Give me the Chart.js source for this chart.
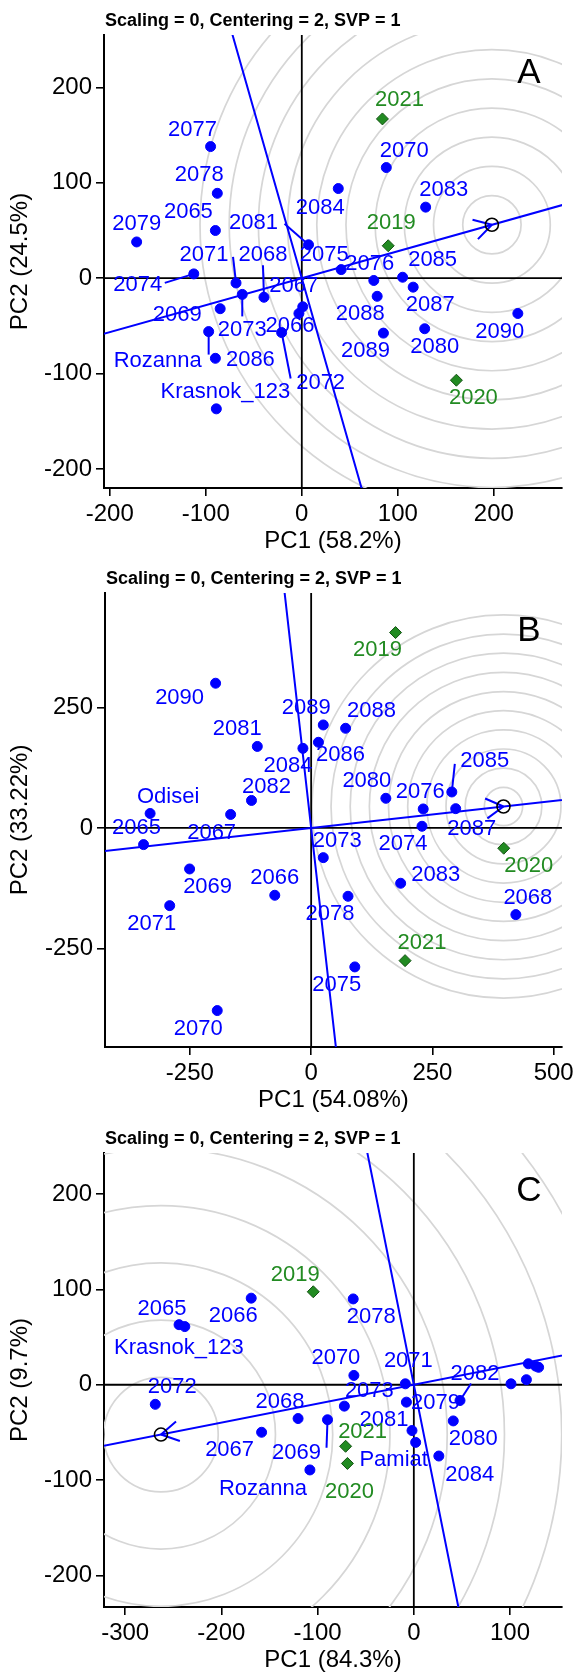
<!DOCTYPE html>
<html>
<head>
<meta charset="utf-8">
<script src="https://cdn.jsdelivr.net/npm/chart.js@4.4.1/dist/chart.umd.min.js"></script>
<style>
  html, body { margin: 0; padding: 0; background: #fff; }
  #wrap { position: relative; width: 578px; height: 1675px; }
  #wrap canvas { position: absolute; left: 0; }
</style>
</head>
<body>
<div id="wrap">
  <canvas id="chartA" width="578" height="555" style="top:0px"></canvas>
  <canvas id="chartB" width="578" height="560" style="top:555px"></canvas>
  <canvas id="chartC" width="578" height="560" style="top:1115px"></canvas>
</div>
<script>
// ---- panel A data ----
const genoNamesA = ['2077','2078','2065','2079','2081','2084','2070','2083','2075','2076','2085','2087','2074','2071','2068','2073','2069','Rozanna','2086','Krasnok_123','2072','2067','2066','2088','2089','2080','2090'];
const genoXA = [-95, -88, -90, -172, 7, 38, 88, 129, 41, 75, 105, 116, -112.5, -68.5, -39.4, -62, -85, -97, -90, -89, -21, 1, -3, 78.5, 85, 128, 225];
const genoYA = [138, 89, 50, 38, 35, 94, 116, 74.5, 9, -2.4, 1, -9.4, 4.5, -5, -20, -17, -32, -56, -84, -137, -57, -30, -37, -19, -57.6, -53, -37];
const envNamesA = ['2021', '2019', '2020'];
const envXA = [84, 90, 161];
const envYA = [167, 34, -107];
const idealA = [198, 56];
const ringStepA = 30.4, ringCountA = 10;
const ticksXA = [-200, -100, 0, 100, 200];
const ticksYA = [-200, -100, 0, 100, 200];

// ---- panel B data ----
const genoNamesB = ['2090','2089','2088','2086','2084','2081','2082','2080','2076','2085','2087','Odisei','2067','2065','2073','2074','2069','2066','2071','2078','2083','2068','2075','2070'];
const genoXB = [-197, 25, 71, 15, -17, -111, -123, 154, 231, 290, 298, -332, -166, -345.5, 25, 228.5, -250.6, -75, -291.6, 76, 184.5, 422, 90, -193.6];
const genoYB = [300, 213.5, 206.6, 177.6, 165, 169, 57, 61.5, 39.4, 74.6, 40, 30, 28, -34.5, -61.5, 3.5, -85, -139.5, -161, -141.6, -114.6, -179.6, -288, -378.5];
const envNamesB = ['2019', '2020', '2021'];
const envXB = [174, 397, 193.6];
const envYB = [405, -42, -275];
const idealB = [396.5, 44.5];
const ringStepB = 39.5, ringCountB = 10;
const ticksXB = [-250, 0, 250, 500];
const ticksYB = [-250, 0, 250];

// ---- panel C data ----
const genoNamesC = ['2065','Krasnok_123','2066','2078','2070','2071','2072','2068','2067','2069','2073','Rozanna','2079','2081','Pamiat','2084','2080','2082','','','','',''];
const genoXC = [-244, -238, -169, -63, -62.3, -8.8, -268.7, -120.3, -158.2, -89.7, -72.2, -108, -7.7, -1.9, 1.9, 26, 41, 48, 101, 117, 119, 126.7, 129.7];
const genoYC = [63, 61, 90.8, 90, 9.8, 1, -20.5, -35.4, -49.8, -36.7, -22.4, -89.3, -18.2, -48, -60.4, -74.7, -37.9, -16.5, 1, 5.3, 22, 19.5, 18.3];
const envNamesC = ['2019', '2021', '2020'];
const envXC = [-104.5, -70.9, -69];
const envYC = [97.5, -64.5, -82.5];
const idealC = [-262.8, -52.2];
const ringStepC = 59.5, ringCountC = 10;
const ticksXC = [-300, -200, -100, 0, 100];
const ticksYC = [-200, -100, 0, 100, 200];

// label placement (pixel offsets from the point) and leader lines
const labelPosA = {
  '2077': [-18, -17], '2078': [-18, -18], '2065': [-27, -19], '2079': [0, -18], '2081': [-55, -22],
  '2084': [-18, 19], '2070': [18, -17], '2083': [18, -17], '2075': [-17, -15], '2076': [-4, -17],
  '2085': [30, -17], '2087': [17, 18], '2074': [-56, 11], '2071': [-32, -28], '2068': [-1, -42],
  '2073': [0, 36], '2069': [-43, 6], 'Rozanna': [-51, 29], '2086': [35, 2], 'Krasnok_123': [9, -17],
  '2072': [39, 50], '2067': [-9, -21], '2066': [-9, 12], '2088': [-17, 18], '2089': [-18, 18],
  '2080': [10, 18], '2090': [-18, 18], '2021': [17, -19], '2019': [3, -23], '2020': [17, 18]
};
const leadersA = { '2081': [-24, -21], '2071': [-3, -26], '2068': [-1, -32], '2074': [-29, 9], '2073': [0, 22], 'Rozanna': [0, 23], '2072': [9, 46] };

const labelPosB = {
  '2090': [-36, 15], '2089': [-17, -17], '2088': [26, -17], '2086': [22, 13], '2084': [-15, 18],
  '2081': [-20, -17], '2082': [15, -14], '2080': [-19, -17], '2076': [-3, -17], '2085': [33, -31],
  '2087': [16, 20], 'Odisei': [18, -17], '2067': [-19, 18], '2065': [-7, -17], '2073': [14, -17],
  '2074': [-19, 18], '2069': [18, 18], '2066': [0, -17], '2071': [-18, 18], '2078': [-18, 18],
  '2083': [35, -8], '2068': [12, -17], '2075': [-18, 18], '2070': [-19, 18],
  '2019': [-18, 17], '2020': [25, 18], '2021': [17, -18]
};
const leadersB = { '2085': [3, -28] };

const labelPosC = {
  '2065': [-17, -16], 'Krasnok_123': [-6, 21], '2066': [-18, 18], '2078': [18, 18], '2070': [-18, -17],
  '2071': [3, -23], '2072': [17, -17], '2068': [-18, -17], '2067': [-32, 18], '2069': [-31, 33],
  '2073': [25, -15], 'Rozanna': [-47, 19], '2079': [29, 1], '2081': [-28, -11], 'Pamiat': [-22, 18],
  '2084': [31, 19], '2080': [20, 18], '2082': [15, -27],
  '2019': [-18, -17], '2021': [17, -14], '2020': [2, 28]
};
const leadersC = { '2069': [-1, 28], '2082': [11, -17] };

const FONT = '"Liberation Sans", Arial, sans-serif';
const BLUE = '#0000ff';
const GREEN = '#228b22';
const TITLE = 'Scaling = 0, Centering = 2, SVP = 1';

function makePanel(canvasId, p) {
  const pts = (xs, ys) => xs.map((v, i) => ({ x: v, y: ys[i] }));

  const biplot = {
    id: 'biplot',
    beforeDatasetsDraw(chart) {
      const { ctx, chartArea: a, scales: { x, y } } = chart;
      ctx.save();
      ctx.beginPath();
      ctx.rect(a.left, a.top, a.width, a.height);
      ctx.clip();

      // concentric circles round the ideal point
      const cx = x.getPixelForValue(p.ideal[0]), cy = y.getPixelForValue(p.ideal[1]);
      ctx.strokeStyle = '#d6d6d6';
      ctx.lineWidth = 1.7;
      for (let k = 1; k <= p.rings; k++) {
        const r = x.getPixelForValue(p.ideal[0] + k * p.ringStep) - cx;
        ctx.beginPath();
        ctx.arc(cx, cy, r, 0, Math.PI * 2);
        ctx.stroke();
      }

      // zero lines
      const ox = x.getPixelForValue(0), oy = y.getPixelForValue(0);
      ctx.strokeStyle = '#000';
      ctx.lineWidth = 1.8;
      ctx.beginPath();
      ctx.moveTo(a.left, oy); ctx.lineTo(a.right, oy);
      ctx.moveTo(ox, a.top); ctx.lineTo(ox, a.bottom);
      ctx.stroke();

      // axis through the ideal point and its perpendicular
      const ux = cx - ox, uy = cy - oy, ul = Math.hypot(ux, uy);
      const px = x.getPixelForValue(-p.ideal[1]) - ox, py = y.getPixelForValue(p.ideal[0]) - oy;
      const pl = Math.hypot(px, py);
      const L = 2000;
      ctx.strokeStyle = BLUE;
      ctx.lineWidth = 2;
      ctx.beginPath();
      ctx.moveTo(ox - ux / ul * L, oy - uy / ul * L); ctx.lineTo(ox + ux / ul * L, oy + uy / ul * L);
      ctx.moveTo(ox - px / pl * L, oy - py / pl * L); ctx.lineTo(ox + px / pl * L, oy + py / pl * L);
      ctx.stroke();

      // arrow head at the ideal point
      const bx = -ux / ul, by = -uy / ul, ang = Math.PI / 6, bl = 20;
      ctx.beginPath();
      [ang, -ang].forEach(t => {
        const rx = bx * Math.cos(t) - by * Math.sin(t), ry = bx * Math.sin(t) + by * Math.cos(t);
        ctx.moveTo(cx, cy); ctx.lineTo(cx + rx * bl, cy + ry * bl);
      });
      ctx.stroke();

      // open circle on the ideal point
      ctx.strokeStyle = '#000';
      ctx.lineWidth = 1.6;
      ctx.beginPath();
      ctx.arc(cx, cy, 6.5, 0, Math.PI * 2);
      ctx.stroke();
      ctx.restore();
    },
    afterDatasetsDraw(chart) {
      const { ctx, chartArea: a, scales: { x, y } } = chart;
      ctx.save();
      ctx.font = '22px ' + FONT;
      ctx.textAlign = 'center';
      ctx.textBaseline = 'middle';
      const drawLabels = (names, xs, ys, color) => {
        names.forEach((n, i) => {
          if (!n) return;
          const sx = x.getPixelForValue(xs[i]), sy = y.getPixelForValue(ys[i]);
          const ld = p.leaders[n];
          if (ld) {
            ctx.strokeStyle = color;
            ctx.lineWidth = 2;
            ctx.beginPath();
            ctx.moveTo(sx, sy); ctx.lineTo(sx + ld[0], sy + ld[1]);
            ctx.stroke();
          }
          const o = p.labels[n] || [15, -16];
          ctx.fillStyle = color;
          ctx.fillText(n, sx + o[0], sy + o[1]);
        });
      };
      drawLabels(p.gn, p.gx, p.gy, BLUE);
      drawLabels(p.en, p.ex, p.ey, GREEN);

      // titles
      ctx.fillStyle = '#000';
      ctx.font = 'bold 18px ' + FONT;
      ctx.textAlign = 'left';
      ctx.fillText(TITLE, a.left + 1, a.top - 14);
      ctx.font = '35px ' + FONT;
      ctx.textAlign = 'center';
      ctx.fillText(p.letter, 529, a.top + 38);
      ctx.font = '24px ' + FONT;
      ctx.fillText(p.xTitle, (a.left + a.right) / 2, a.bottom + 53);
      ctx.translate(20, (a.top + a.bottom) / 2);
      ctx.rotate(-Math.PI / 2);
      ctx.fillText(p.yTitle, 0, 0);
      ctx.restore();
    }
  };

  const axis = (min, max, ticks) => ({
    type: 'linear',
    min: min,
    max: max,
    afterBuildTicks: s => { s.ticks = ticks.map(v => ({ value: v })); },
    grid: { display: true, drawOnChartArea: false, drawTicks: true, tickLength: 8, color: '#000', lineWidth: 1.6 },
    border: { display: true, color: '#000', width: 2 },
    ticks: { color: '#000', font: { family: FONT, size: 24 }, padding: 4, maxRotation: 0, autoSkip: false }
  });

  const xAxis = axis(p.xRange[0], p.xRange[1], p.ticksX);
  xAxis.afterFit = s => { s.height = p.xAxisH; };
  const yAxis = axis(p.yRange[0], p.yRange[1], p.ticksY);
  yAxis.afterFit = s => { s.width = p.yAxisW; };

  return new Chart(document.getElementById(canvasId), {
    type: 'scatter',
    data: {
      datasets: [
        { data: pts(p.gx, p.gy), pointStyle: 'circle', pointRadius: 5, backgroundColor: BLUE, borderColor: BLUE, borderWidth: 1 },
        { data: pts(p.ex, p.ey), pointStyle: 'rectRot', pointRadius: 6, backgroundColor: GREEN, borderColor: '#145214', borderWidth: 1 }
      ]
    },
    options: {
      responsive: false,
      animation: false,
      devicePixelRatio: 1,
      layout: { padding: { top: p.padTop, right: 16, bottom: 0, left: 0 } },
      plugins: { legend: { display: false }, tooltip: { enabled: false } },
      scales: { x: xAxis, y: yAxis }
    },
    plugins: [biplot]
  });
}

makePanel('chartA', {
  gn: genoNamesA, gx: genoXA, gy: genoYA, en: envNamesA, ex: envXA, ey: envYA,
  ideal: idealA, ringStep: ringStepA, rings: ringCountA, ticksX: ticksXA, ticksY: ticksYA,
  xRange: [-206, 271], yRange: [-220, 255], padTop: 35, xAxisH: 67, yAxisW: 104,
  labels: labelPosA, leaders: leadersA, letter: 'A', xTitle: 'PC1 (58.2%)', yTitle: 'PC2 (24.5%)'
});
makePanel('chartB', {
  gn: genoNamesB, gx: genoXB, gy: genoYB, en: envNamesB, ex: envXB, ey: envYB,
  ideal: idealB, ringStep: ringStepB, rings: ringCountB, ticksX: ticksXB, ticksY: ticksYB,
  xRange: [-425, 517], yRange: [-454, 487], padTop: 38, xAxisH: 68, yAxisW: 105,
  labels: labelPosB, leaders: leadersB, letter: 'B', xTitle: 'PC1 (54.08%)', yTitle: 'PC2 (33.22%)'
});
makePanel('chartC', {
  gn: genoNamesC, gx: genoXC, gy: genoYC, en: envNamesC, ex: envXC, ey: envYC,
  ideal: idealC, ringStep: ringStepC, rings: ringCountC, ticksX: ticksXC, ticksY: ticksYC,
  xRange: [-322, 154], yRange: [-233, 243], padTop: 38, xAxisH: 68, yAxisW: 104,
  labels: labelPosC, leaders: leadersC, letter: 'C', xTitle: 'PC1 (84.3%)', yTitle: 'PC2 (9.7%)'
});
</script>
</body>
</html>
